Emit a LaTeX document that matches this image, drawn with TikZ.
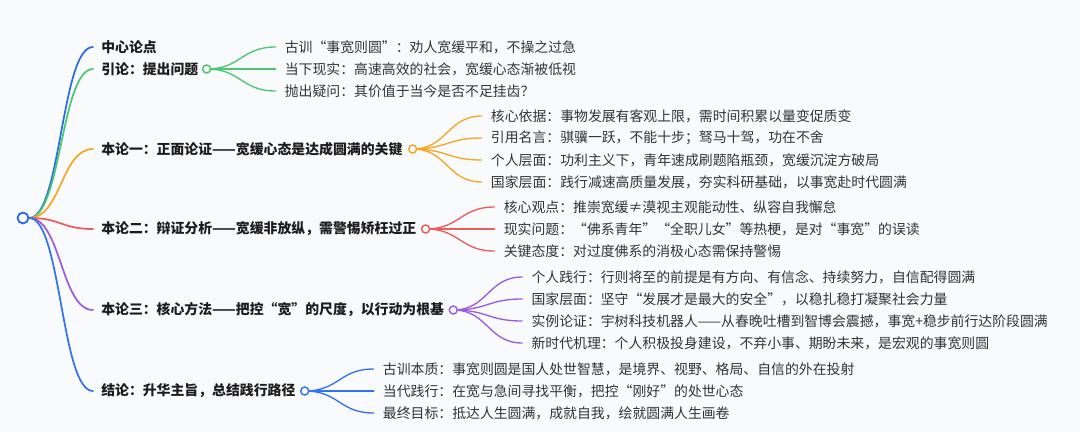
\documentclass[tikz,border=0pt]{standalone}
\usepackage{fontspec}
\setmainfont{Noto Sans CJK SC}
\usetikzlibrary{calc}
\definecolor{bg}{HTML}{F9FAFC}
\definecolor{txtmain}{HTML}{1C1C1C}
\definecolor{txtsub}{HTML}{333333}
\definecolor{cA}{HTML}{2B6BE6}
\definecolor{cB}{HTML}{48C870}
\definecolor{cC}{HTML}{F5A623}
\definecolor{cD}{HTML}{EF5B5B}
\definecolor{cE}{HTML}{9B5CE0}
\definecolor{cF}{HTML}{2F74F0}
\begin{document}
\begin{tikzpicture}[x=0.75pt,y=-0.75pt,
  lab/.style={anchor=west,inner sep=0pt,font=\fontsize{10.4}{12}\selectfont\bfseries,text=txtmain},
  sub/.style={anchor=west,inner sep=0pt,font=\fontsize{10.4}{12}\selectfont,text=txtsub},
  dot/.style={circle,draw=#1,fill=white,line width=1.1pt,minimum size=6pt,inner sep=0pt},
  hlink/.style={to path={let \p1=(\tikztostart),\p2=(\tikztotarget) in .. controls ({0.5*\x1+0.5*\x2},\y1) and ({0.5*\x1+0.5*\x2},\y2) .. (\tikztotarget)}},
  mainlink/.style={draw=#1,line width=1.3pt,line cap=round,hlink},
  sublink/.style={draw=#1,line width=1.0pt,line cap=round,hlink}
]
\useasboundingbox (0,0) rectangle (1080,432);
\fill[bg] (0,0) rectangle (1080,432);

% main labels
\node[lab] (l0) at (101,47) {中心论点};
\node[lab] (l1) at (101,69) {引论：提出问题};
\node[lab] (l2) at (101,149) {本论一：正面论证——宽缓心态是达成圆满的关键};
\node[lab] (l3) at (101,229) {本论二：辩证分析——宽缓非放纵，需警惕矫枉过正};
\node[lab] (l4) at (101,310) {本论三：核心方法——把控“宽”的尺度，以行动为根基};
\node[lab] (l5) at (101,391) {结论：升华主旨，总结践行路径};

% root
\node[circle,draw=cA,fill=white,line width=1.3pt,minimum size=8pt,inner sep=0pt] (root) at (23,218) {};

% links root -> main
\draw[mainlink=cA] (root.east) to ($(l0.west)+(-8,0)$);
\draw[mainlink=cB] (root.east) to ($(l1.west)+(-8,0)$);
\draw[mainlink=cC] (root.east) to ($(l2.west)+(-8,0)$);
\draw[mainlink=cD] (root.east) to ($(l3.west)+(-8,0)$);
\draw[mainlink=cE] (root.east) to ($(l4.west)+(-8,0)$);
\draw[mainlink=cF] (root.east) to ($(l5.west)+(-8,0)$);
\node[circle,draw=cA,fill=white,line width=1.3pt,minimum size=8pt,inner sep=0pt] at (root.center) {};

% branch circles
\coordinate (p1) at ($(l1.east)+(8,0)$);
\coordinate (p2) at ($(l2.east)+(10,0)$);
\coordinate (p3) at ($(l3.east)+(9,0)$);
\coordinate (p4) at ($(l4.east)+(9,0)$);
\coordinate (p5) at ($(l5.east)+(9,0)$);

% children: 引论
\node[sub] (s11) at ($(p1)+(78,-22)$) {古训“事宽则圆”：劝人宽缓平和，不操之过急};
\node[sub] (s12) at ($(p1)+(78,0)$) {当下现实：高速高效的社会，宽缓心态渐被低视};
\node[sub] (s13) at ($(p1)+(78,22)$) {抛出疑问：其价值于当今是否不足挂齿？};
% 本论一
\node[sub] (s21) at ($(p2)+(78,-33)$) {核心依据：事物发展有客观上限，需时间积累以量变促质变};
\node[sub] (s22) at ($(p2)+(78,-11)$) {引用名言：骐骥一跃，不能十步；驽马十驾，功在不舍};
\node[sub] (s23) at ($(p2)+(78,11)$) {个人层面：功利主义下，青年速成刷题陷瓶颈，宽缓沉淀方破局};
\node[sub] (s24) at ($(p2)+(78,33)$) {国家层面：践行减速高质量发展，夯实科研基础，以事宽赴时代圆满};
% 本论二
\node[sub] (s31) at ($(p3)+(78,-22)$) {核心观点：推崇宽缓≠漠视主观能动性、纵容自我懈怠};
\node[sub] (s32) at ($(p3)+(78,0)$) {现实问题：“佛系青年”“全职儿女”等热梗，是对“事宽”的误读};
\node[sub] (s33) at ($(p3)+(78,22)$) {关键态度：对过度佛系的消极心态需保持警惕};
% 本论三
\node[sub] (s41) at ($(p4)+(78,-33)$) {个人践行：行则将至的前提是有方向、有信念、持续努力，自信配得圆满};
\node[sub] (s42) at ($(p4)+(78,-11)$) {国家层面：坚守“发展才是最大的安全”，以稳扎稳打凝聚社会力量};
\node[sub] (s43) at ($(p4)+(78,11)$) {实例论证：宇树科技机器人——从春晚吐槽到智博会震撼，事宽+稳步前行达阶段圆满};
\node[sub] (s44) at ($(p4)+(78,33)$) {新时代机理：个人积极投身建设，不弃小事、期盼未来，是宏观的事宽则圆};
% 结论
\node[sub] (s51) at ($(p5)+(78,-22)$) {古训本质：事宽则圆是国人处世智慧，是境界、视野、格局、自信的外在投射};
\node[sub] (s52) at ($(p5)+(78,0)$) {当代践行：在宽与急间寻找平衡，把控“刚好”的处世心态};
\node[sub] (s53) at ($(p5)+(78,22)$) {最终目标：抵达人生圆满，成就自我，绘就圆满人生画卷};

% child links
\foreach \s in {s11,s12,s13} \draw[sublink=cB] (p1) to ($(\s.west)+(-9,0)$);
\foreach \s in {s21,s22,s23,s24} \draw[sublink=cC] (p2) to ($(\s.west)+(-9,0)$);
\foreach \s in {s31,s32,s33} \draw[sublink=cD] (p3) to ($(\s.west)+(-9,0)$);
\foreach \s in {s41,s42,s43,s44} \draw[sublink=cE] (p4) to ($(\s.west)+(-9,0)$);
\foreach \s in {s51,s52,s53} \draw[sublink=cF] (p5) to ($(\s.west)+(-9,0)$);

% circles
\node[dot=cB] (c1) at (p1) {};
\node[dot=cC] (c2) at (p2) {};
\node[dot=cD] (c3) at (p3) {};
\node[dot=cE] (c4) at (p4) {};
\node[dot=cF] (c5) at (p5) {};
\end{tikzpicture}
\end{document}
